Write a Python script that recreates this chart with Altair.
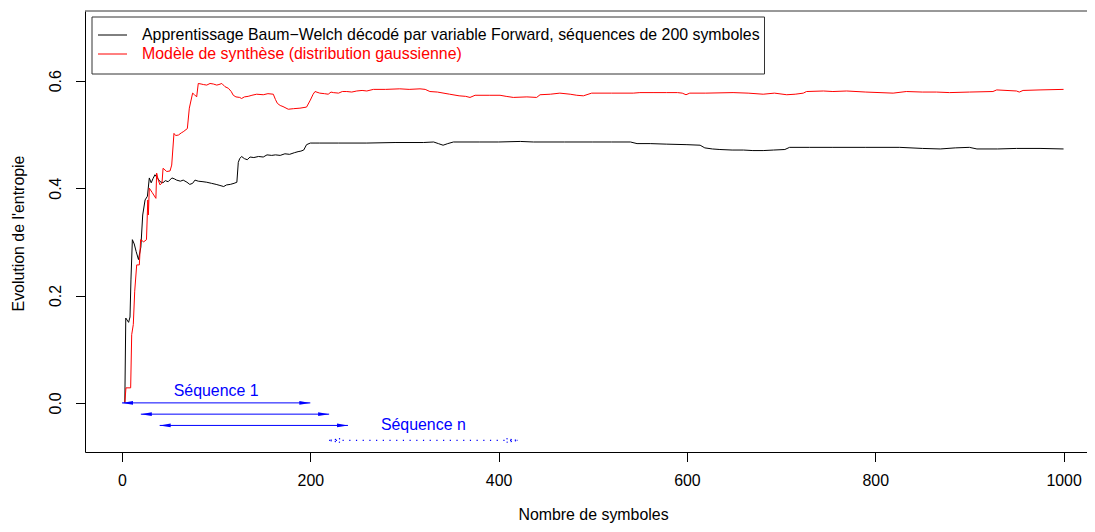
import altair as alt
import pandas as pd

# ---- data ----
black_x = [3, 4, 7, 8.5, 9.5, 11, 13, 15, 17.5, 20, 22, 24.5, 27, 29, 31, 33, 35, 38, 40.5, 43.5,
           46, 49, 53, 56, 58, 62, 65, 69, 72, 75, 77.5, 81, 86, 90, 95, 100, 104, 108, 111, 115,
           119, 122, 123.5, 125, 127, 130, 133, 136, 140, 145, 150, 154, 159, 163, 168, 173, 178,
           183, 187, 190, 193, 196, 200, 205, 210, 230, 260, 290, 320, 331, 336, 341, 346, 352,
           380, 400, 423, 437, 470, 500, 520, 540, 547, 561, 578, 600, 614, 619, 627, 635, 648,
           660, 670, 681, 692, 704, 709, 730, 755, 790, 826, 850, 869, 885, 900, 908, 930, 950,
           975, 1000]
black_y = [0.0, 0.158, 0.150, 0.160, 0.229, 0.304, 0.296, 0.282, 0.267, 0.290, 0.350, 0.378,
           0.385, 0.419, 0.410, 0.418, 0.425, 0.418, 0.412, 0.410, 0.414, 0.412, 0.419, 0.417,
           0.415, 0.413, 0.415, 0.411, 0.407, 0.409, 0.415, 0.413, 0.412, 0.411, 0.409, 0.407,
           0.405, 0.403, 0.406, 0.407, 0.409, 0.411, 0.448, 0.455, 0.459, 0.455, 0.453, 0.458,
           0.457, 0.459, 0.458, 0.462, 0.461, 0.462, 0.461, 0.464, 0.463, 0.466, 0.468, 0.469,
           0.471, 0.481, 0.484, 0.484, 0.484, 0.484, 0.484, 0.485, 0.485, 0.486, 0.483, 0.480,
           0.483, 0.486, 0.486, 0.486, 0.487, 0.486, 0.486, 0.486, 0.486, 0.486, 0.483, 0.483,
           0.482, 0.481, 0.480, 0.475, 0.473, 0.472, 0.471, 0.471, 0.470, 0.470, 0.471, 0.472,
           0.476, 0.476, 0.476, 0.476, 0.476, 0.474, 0.473, 0.475, 0.476, 0.473, 0.473, 0.474,
           0.474, 0.473]

red_x = [3, 4.2, 9.2, 10.3, 12, 13.5, 15.6, 18.4, 19.8, 23, 26, 27.4, 28, 29, 32, 36, 36.8, 38.5,
         40.4, 42.5, 43.6, 47.5, 51, 52.8, 55.2, 57, 60, 63, 65, 69.4, 71.5, 75, 77, 79.3, 81, 84,
         86.4, 90, 93.5, 97, 100.6, 103, 106, 109.4, 113, 116, 118.2, 121, 125, 127, 130, 134, 138,
         143, 150, 155, 160.7, 163, 165, 168, 171, 176.6, 182, 189, 196, 200, 203, 205, 210, 215,
         219, 222, 224.4, 230, 234, 238.7, 244, 249.3, 255, 260, 267, 280, 295, 305, 316.5, 322,
         327, 335, 348, 358, 365, 369.6, 375, 390, 401.5, 408, 415.6, 430, 440.4, 444, 455, 465,
         476, 483, 490, 498.8, 520, 543, 550, 565, 578.5, 590, 595, 599, 603, 620, 649, 665, 681,
         693, 706, 715, 723.6, 727, 745, 755, 769.7, 790, 819, 833, 850, 865, 879, 900, 925, 929,
         950, 953, 957, 975, 1000]
red_y = [0.0, 0.028, 0.028, 0.127, 0.146, 0.208, 0.257, 0.257, 0.304, 0.300, 0.304, 0.378, 0.350,
         0.400, 0.392, 0.381, 0.428, 0.415, 0.406, 0.410, 0.437, 0.431, 0.432, 0.443, 0.502, 0.498,
         0.499, 0.503, 0.505, 0.511, 0.549, 0.577, 0.574, 0.570, 0.595, 0.594, 0.593, 0.592, 0.595,
         0.594, 0.592, 0.593, 0.595, 0.589, 0.586, 0.580, 0.573, 0.570, 0.569, 0.567, 0.570, 0.571,
         0.573, 0.575, 0.574, 0.576, 0.575, 0.565, 0.558, 0.554, 0.552, 0.547, 0.548, 0.549, 0.551,
         0.564, 0.575, 0.580, 0.577, 0.576, 0.575, 0.579, 0.578, 0.577, 0.580, 0.580, 0.579, 0.581,
         0.582, 0.581, 0.584, 0.584, 0.585, 0.584, 0.585, 0.584, 0.580, 0.579, 0.575, 0.572, 0.571,
         0.569, 0.573, 0.573, 0.573, 0.571, 0.569, 0.570, 0.569, 0.574, 0.575, 0.577, 0.575, 0.573,
         0.572, 0.577, 0.577, 0.577, 0.578, 0.578, 0.578, 0.578, 0.577, 0.574, 0.577, 0.577, 0.578,
         0.577, 0.575, 0.577, 0.574, 0.575, 0.577, 0.580, 0.581, 0.580, 0.581, 0.579, 0.577, 0.580,
         0.579, 0.579, 0.578, 0.579, 0.580, 0.583, 0.581, 0.579, 0.582, 0.583, 0.584]

legend_labels = ["Apprentissage Baum\u2212Welch d\u00e9cod\u00e9 par variable Forward, s\u00e9quences de 200 symboles",
                 "Mod\u00e8le de synth\u00e8se (distribution gaussienne)"]
legend_colors = ["#000000", "#FF0000"]

# sequence arrows (solid)
arrow_x1 = [0, 20, 40]
arrow_x2 = [200, 220, 240]
arrow_y = [0.0, -0.021, -0.042]
# dotted arrow
dot_x1 = [220]
dot_x2 = [420]
dot_y = [-0.070]
seq_labels = ["S\u00e9quence 1", "S\u00e9quence n"]
seq_label_x = [100, 320]
seq_label_y = [0.013, -0.051]

x_ticks = [0, 200, 400, 600, 800, 1000]
y_ticks = [0.0, 0.2, 0.4, 0.6]

W, H = 1002, 441
FONT = "Liberation Sans"
FS = 15.9

xs = alt.Scale(domain=[-39.3, 1024.9], nice=False, zero=False)
ys = alt.Scale(domain=[-0.0915, 0.730], nice=False, zero=False)

x_axis = alt.Axis(values=x_ticks, format="d", title="Nombre de symboles", titleX=508, titleY=62.5,
                  titleBaseline="middle", titleAlign="center", labelBaseline="middle",
                  labelPadding=19, labelFlush=False, labelOverlap=False)
y_axis = alt.Axis(values=y_ticks, format=".1f", title="Evolution de l'entropie", titleX=-66.5,
                  titleY=222, titleAngle=270, titleBaseline="middle", titleAlign="center",
                  labelAngle=270, labelAlign="center", labelBaseline="middle", labelPadding=20,
                  labelFlush=False, labelOverlap=False)

X = lambda f: alt.X(f, type="quantitative", scale=xs, axis=x_axis)
Y = lambda f: alt.Y(f, type="quantitative", scale=ys, axis=y_axis)

black_df = pd.DataFrame({"x": black_x, "y": black_y})
red_df = pd.DataFrame({"x": red_x, "y": red_y})

black_line = alt.Chart(black_df).mark_line(color="#000000", strokeWidth=1, interpolate="linear").encode(
    x=X("x"), y=Y("y"), order="x:Q")
red_line = alt.Chart(red_df).mark_line(color="#FF0000", strokeWidth=1, interpolate="linear").encode(
    x=X("x"), y=Y("y"), order="x:Q")

arr_df = pd.DataFrame({"x1": arrow_x1, "x2": arrow_x2, "y": arrow_y})
arrows = alt.Chart(arr_df).mark_rule(color="#0000FF", strokeWidth=1).encode(
    x=X("x1"), x2="x2:Q", y=Y("y"))
right_head = "M0,0 L-2,-0.33 L-2,0.33 Z"
left_head = "M0,0 L2,-0.33 L2,0.33 Z"
heads_r = alt.Chart(arr_df).mark_point(shape=right_head, filled=True, size=121, color="#0000FF",
                                         opacity=1, strokeWidth=0).encode(x=X("x2"), y=Y("y"))
heads_l = alt.Chart(arr_df).mark_point(shape=left_head, filled=True, size=121, color="#0000FF",
                                         opacity=1, strokeWidth=0).encode(x=X("x1"), y=Y("y"))

dot_df = pd.DataFrame({"x1": dot_x1, "x2": dot_x2, "y": dot_y})
dotted = alt.Chart(dot_df).mark_rule(color="#0000FF", strokeWidth=1.2, strokeDash=[1.2, 5.5]).encode(
    x=X("x1"), x2="x2:Q", y=Y("y"))
open_r = "M-2,-0.33 L0,0 L-2,0.33"
open_l = "M2,-0.33 L0,0 L2,0.33"
dheads_r = alt.Chart(dot_df).mark_point(shape=open_r, filled=False, size=121, color="#0000FF",
                                          opacity=1, strokeWidth=1.2, strokeDash=[1.2, 3]).encode(
    x=X("x2"), y=Y("y"))
dheads_l = alt.Chart(dot_df).mark_point(shape=open_l, filled=False, size=121, color="#0000FF",
                                          opacity=1, strokeWidth=1.2, strokeDash=[1.2, 3]).encode(
    x=X("x1"), y=Y("y"))

seq_df = pd.DataFrame({"label": seq_labels, "x": seq_label_x, "y": seq_label_y})
seq_text = alt.Chart(seq_df).mark_text(color="#0000FF", font=FONT, fontSize=FS, align="center",
                                       baseline="alphabetic").encode(x=X("x"), y=Y("y"), text="label:N")

# decorations: top border and legend box
one = pd.DataFrame({"k": [0]})
top_line = alt.Chart(one).mark_rule(color="#333333", strokeWidth=1).encode(
    x=alt.value(0), x2=alt.value(W), y=alt.value(0))
leg_box = alt.Chart(one).mark_rect(fill="white", stroke="#333333", strokeWidth=1).encode(
    x=alt.value(7), x2=alt.value(679.5), y=alt.value(6), y2=alt.value(63))
leg_layers = []
for i, (lab, col) in enumerate(zip(legend_labels, legend_colors)):
    yy = 24 + 19 * i
    leg_layers.append(alt.Chart(one).mark_rule(color=col, strokeWidth=1).encode(
        x=alt.value(13), x2=alt.value(42), y=alt.value(yy)))
    leg_layers.append(alt.Chart(one).mark_text(color=col, font=FONT, fontSize=FS, align="left",
                                               baseline="middle", text=lab).encode(
        x=alt.value(57), y=alt.value(yy)))

chart = alt.layer(
    black_line, red_line, arrows, heads_r, heads_l, dotted, dheads_r, dheads_l, seq_text,
    top_line, leg_box, *leg_layers
).properties(
    width=W, height=H,
    autosize=alt.AutoSizeParams(type="none"),
    padding={"left": 77, "top": 3, "right": 0, "bottom": 71},
    background="white",
).configure_view(stroke=None).configure_axis(
    grid=False, domainColor="#000000", domainWidth=1, tickColor="#000000", tickWidth=1,
    tickSize=9.5, labelFont=FONT, labelFontSize=FS, labelColor="#000000",
    titleFont=FONT, titleFontSize=FS, titleFontWeight="normal", titleColor="#000000",
)

chart.save("out.html", embed_options={"renderer": "svg", "actions": False})
